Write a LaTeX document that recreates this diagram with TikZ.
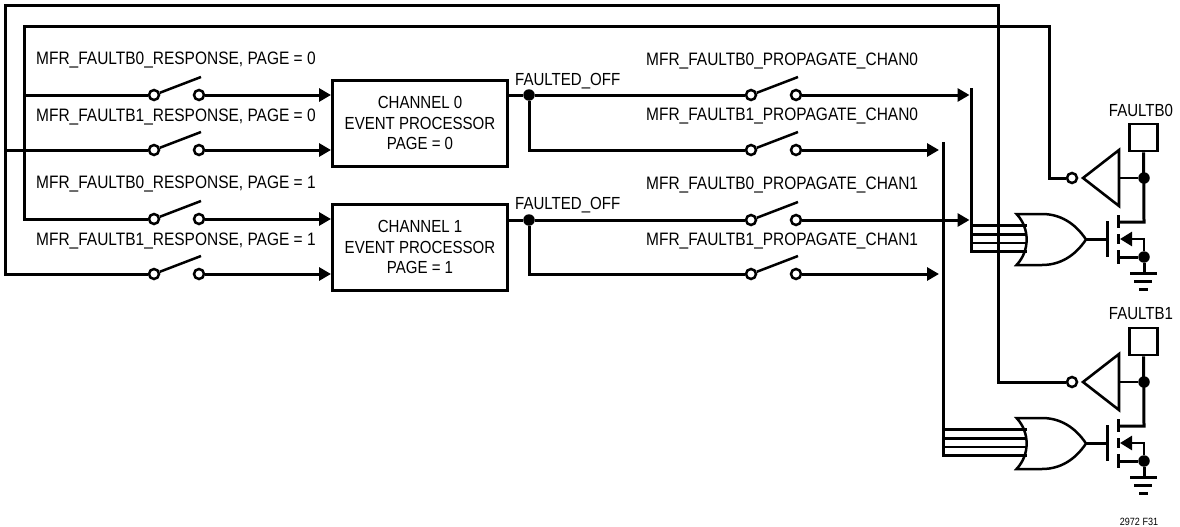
\documentclass[tikz,border=0pt]{standalone}
\usepackage{fontspec}
\setmainfont[FakeStretch=0.86]{Liberation Sans}
\usetikzlibrary{arrows.meta}

\begin{document}
\begin{tikzpicture}[
  x=1pt, y=-1pt,
  wire/.style={line width=3pt},
  arr/.style={wire, -{Triangle[length=12pt, width=13pt]}},
  thin wire/.style={line width=2.5pt},
  lbl/.style={font=\fontsize{18}{20.5}\selectfont, inner sep=0pt, anchor=west},
  off/.style={font=\fontsize{17.5}{20.5}\selectfont, inner sep=0pt, anchor=west},
  term/.style={circle, draw, fill=white, line width=2.5pt, inner sep=0pt, minimum size=10pt},
  dot/.style={circle, fill=black, inner sep=0pt, minimum size=11.5pt},
  procbox/.style={draw, line width=3pt, inner sep=0pt, minimum width=175pt, minimum height=86pt,
    align=center, font=\fontsize{17.5}{20.5}\selectfont},
  pad/.style={draw, line width=2.8pt, inner sep=0pt, minimum width=28pt, minimum height=27pt}
]
  \useasboundingbox (0,0) rectangle (1180,527);

  % event processors
  \node[procbox] (chan0) at (420,123) {CHANNEL 0\\EVENT PROCESSOR\\PAGE = 0};
  \node[procbox] (chan1) at (420,247) {CHANNEL 1\\EVENT PROCESSOR\\PAGE = 1};

  % switches, left column and right column
  \foreach \n/\xa/\y in {la/154/95, lb/154/150, lc/154/219, ld/154/274,
                         ra/751/95, rb/751/150, rc/751/220, rd/751/274} {
    \node[term] (\n1) at (\xa,\y) {};
    \node[term] (\n2) at (\xa+45,\y) {};
    \coordinate (\n3) at (\xa+47,\y-18);
    \draw[thin wire] (\n1) -- (\n3);
  }

  % switch labels
  \foreach \n/\y/\t in {a/60/{MFR\_FAULTB0\_RESPONSE, PAGE = 0}, b/117/{MFR\_FAULTB1\_RESPONSE, PAGE = 0},
                        c/184.5/{MFR\_FAULTB0\_RESPONSE, PAGE = 1}, d/241/{MFR\_FAULTB1\_RESPONSE, PAGE = 1}}
    \node[lbl] (lbl\n) at (36,\y) {\t};
  \foreach \n/\y/\t in {a/61.5/{MFR\_FAULTB0\_PROPAGATE\_CHAN0}, b/116.5/{MFR\_FAULTB1\_PROPAGATE\_CHAN0},
                        c/185/{MFR\_FAULTB0\_PROPAGATE\_CHAN1}, d/241/{MFR\_FAULTB1\_PROPAGATE\_CHAN1}}
    \node[lbl] (rbl\n) at (646,\y) {\t};
  \node[off] (off0) at (515,81) {FAULTED\_OFF};
  \node[off] (off1) at (515,205.5) {FAULTED\_OFF};

  % switches into the processors
  \draw[arr] (la2) -- (chan0.west |- la2);
  \draw[arr] (lb2) -- (chan0.west |- lb2);
  \draw[arr] (lc2) -- (chan1.west |- lc2);
  \draw[arr] (ld2) -- (chan1.west |- ld2);

  % processor outputs
  \node[dot] (out0) at (529,95) {};
  \node[dot] (out1) at (529,220) {};
  \draw[wire] (chan0.east |- out0) -- (out0) -- (ra1);
  \draw[wire] (chan1.east |- out1) -- (out1) -- (rc1);
  \draw[wire] (out0) |- (rb1);
  \draw[wire] (out1) |- (rd1);

  % input buses
  \coordinate (busa) at (971.5,88);
  \coordinate (busb) at (971.5,253);
  \coordinate (busc) at (943,142);
  \coordinate (busd) at (943,457);
  \draw[wire] (busa) -- (busb);
  \draw[wire] (busc) -- (busd);
  \draw[arr] (ra2) -- (969.5,95);
  \draw[arr] (rc2) -- (969.5,220);
  \draw[arr] (rb2) -- (939,150);
  \draw[arr] (rd2) -- (939,274);

  % two fault pin drivers
  \foreach \n/\dy in {0/0, 1/204} {
    \begin{scope}[shift={(0,\dy)}]
      \node[pad] (pad\n) at (1143.5,137.5) {};
      \node[dot] (sense\n) at (1144,178) {};
      \node[dot] (src\n) at (1144,257) {};
      \node[term] (bub\n) at (1072,178) {};
      \coordinate (drn\n) at (1144,222);
      \coordinate (gnd\n) at (1144,273);

      % buffer
      \coordinate (base\n) at (1119,178);
      \draw[line width=2.6pt, line join=miter] (1083,178) -- (1119,150) -- (1119,206) -- cycle;
      \draw[thin wire] (base\n) -- (sense\n);
      \draw[wire] (pad\n) -- (drn\n) -- (1118,222);

      % or gate
      \coordinate (orout\n) at (1086,239.5);
      \coordinate (gate\n) at (1107,239.5);
      \draw[thin wire] (1016.5,214) .. controls (1030,228) and (1030,251) .. (1016.5,265)
        -- (1042,265) .. controls (1060,265) and (1075,256) .. (orout\n)
        .. controls (1075,223) and (1060,214) .. (1042,214) -- cycle;
      \draw[thin wire] (orout\n) -- (gate\n);

      % output transistor
      \draw[wire] (1107,221) -- (1107,257);
      \draw[wire] (1118,215) -- (1118,228);
      \draw[wire] (1118,234) -- (1118,244);
      \draw[wire] (1118,250) -- (1118,264);
      \draw[wire] (src\n) -- (1118,257);
      \draw[thin wire, -{Triangle[length=12pt, width=14pt]}] (src\n) -- (1144,239) -- (1120,239);
      \draw[wire] (src\n) -- (gnd\n);

      % ground
      \draw[wire] (1130,273) -- (1157,273);
      \draw[wire] (1134,281) -- (1152,281);
      \draw[wire] (1139,289) -- (1148,289);
    \end{scope}
  }
  \node[off, anchor=center] (pin0) at (1141,110) {FAULTB0};
  \node[off, anchor=center] (pin1) at (1141,314) {FAULTB1};

  % or gate inputs from the buses
  \foreach \y in {225.7, 234.5, 243, 251.7}
    \draw[thin wire] (busa |- 0,\y) -- (1027,\y);
  \foreach \y in {429.7, 438.5, 447, 455.7}
    \draw[thin wire] (busc |- 0,\y) -- (1027,\y);

  % long feedback wires
  \coordinate (topa) at (5,6);
  \coordinate (topb) at (998,6);
  \coordinate (seca) at (24,27);
  \coordinate (secb) at (1049,27);
  \draw[wire] (ld1) -| (topa) -- (topb) |- (bub1);
  \draw[wire] (lc1) -| (seca) -- (secb) |- (bub0);
  \draw[wire] (la1) -- (seca |- la1);
  \draw[wire] (lb1) -- (topa |- lb1);

  \node[font=\fontsize{10.5}{12}\selectfont, inner sep=0pt] (figno) at (1139,521.5) {2972 F31};
\end{tikzpicture}
\end{document}
